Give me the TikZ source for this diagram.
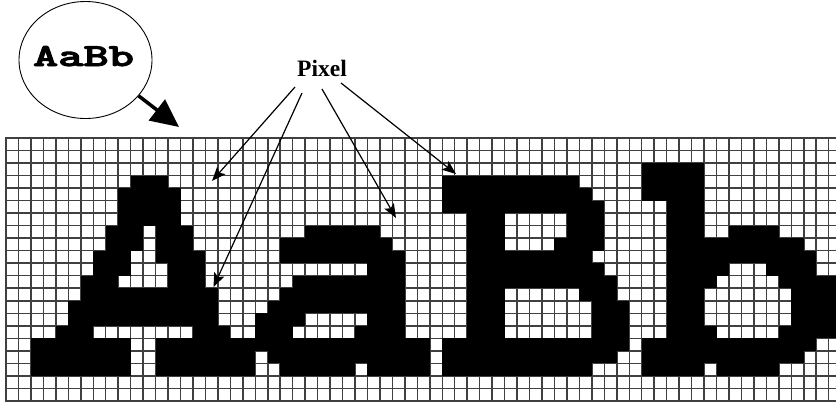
\documentclass[tikz,border=0pt]{standalone}
\usepackage{fontspec}
\usepackage{graphicx}
\newfontfamily\pixfont{Liberation Serif}
\newfontfamily\sampfont{lmmonolt10-bold.otf}[FakeBold=2.5]
\usetikzlibrary{arrows.meta,shapes.geometric}
\definecolor{gridcol}{gray}{0.25}
\tikzset{
  gridl/.style={draw=gridcol, line width=1.5pt, line cap=rect},
  cell/.style={fill=black},
  pixarrow/.style={draw=black, line width=1.2pt, -{Stealth[length=14pt,width=11pt,inset=3pt]}},
  bigarrow/.style={draw=black, line width=3.5pt, -{Triangle[length=28pt,width=26pt]}},
  lens/.style={draw=black, ellipse, line width=0.9pt, minimum width=133pt, minimum height=117pt, inner sep=0pt},
  lbl/.style={anchor=base, inner sep=0pt}
}
\begin{document}
\begin{tikzpicture}[x=1pt,y=-1pt]
\useasboundingbox (0,0) rectangle (836,408);
\fill[white] (0,0) rectangle (836,408);
\begin{scope}
\clip (0,0) rectangle (836,408);
% grid lines
\foreach \c in {0,...,66}
  \draw[gridl] ({6+\c*12.465},138) -- ({6+\c*12.465},400.92);
\foreach \r in {0,...,21}
  \draw[gridl] (6,{138+\r*12.52}) -- (845,{138+\r*12.52});
% black pixels: row/first column/last column
\foreach \r/\a/\b in {
  2/51/55,
  3/10/12, 3/35/45, 3/51/55,
  4/9/13, 4/35/46, 4/51/55,
  5/9/13, 5/35/47, 5/53/55,
  6/9/13, 6/37/39, 6/45/47, 6/53/55,
  7/8/10, 7/12/14, 7/24/29, 7/37/39, 7/45/47, 7/53/55, 7/58/61,
  8/8/10, 8/12/14, 8/22/30, 8/37/39, 8/44/47, 8/53/63,
  9/7/9, 9/12/15, 9/22/31, 9/37/46, 9/53/64,
  10/7/9, 10/13/15, 10/29/31, 10/37/47, 10/53/57, 10/61/64,
  11/6/8, 11/13/15, 11/23/31, 11/37/48, 11/53/56, 11/62/66,
  12/6/16, 12/22/31, 12/37/39, 12/46/48, 12/53/55, 12/63/66,
  13/5/16, 13/21/31, 13/37/39, 13/47/49, 13/53/55, 13/63/66,
  14/5/16, 14/20/23, 14/29/31, 14/37/39, 14/47/49, 14/53/55, 14/63/66,
  15/4/6, 15/15/17, 15/20/22, 15/28/31, 15/37/39, 15/47/49, 15/53/56, 15/62/66,
  16/2/9, 16/12/33, 16/35/49, 16/51/64,
  17/2/9, 17/12/19, 17/21/33, 17/35/48, 17/51/63,
  18/2/9, 18/12/19, 18/22/27, 18/29/33, 18/35/46, 18/51/55, 18/57/61}
  \fill[cell] ({6+\a*12.465},{138+\r*12.52}) rectangle ({6+(\b+1)*12.465},{138+(\r+1)*12.52});
\end{scope}
% magnifier circle with sample text
\node[lens] (circ) at (85.5,60) {};
\node[lbl] (sample) at (83.5,66) {\resizebox{101pt}{20pt}{\sampfont AaBb}};
\coordinate (bigtip) at (179,127);
\draw[bigarrow] (circ.-34) -- (bigtip);
% Pixel label and pointers
\node[lbl, font={\pixfont\bfseries\fontsize{23.5}{28}\selectfont}] (pix) at (322,76) {Pixel};
\coordinate (s1) at (295,87);
\coordinate (s2) at (302,93);
\coordinate (s3) at (322,89);
\coordinate (s4) at (341,83);
\coordinate (t1) at (212,181);
\coordinate (t2) at (213.5,287);
\coordinate (t3) at (396,218);
\coordinate (t4) at (456,174);
\draw[pixarrow] (s1) -- (t1);
\draw[pixarrow] (s2) -- (t2);
\draw[pixarrow] (s3) -- (t3);
\draw[pixarrow] (s4) -- (t4);
\end{tikzpicture}
\end{document}
